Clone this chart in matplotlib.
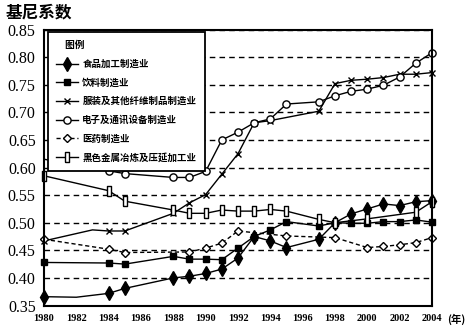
import numpy as np
import matplotlib
matplotlib.use("Agg")
import matplotlib.pyplot as plt

# ── 数据 ──────────────────────────────────────────────────────────────────────
labels = [
    "食品加工制造业",
    "饮料制造业",
    "服装及其他纤维制品制造业",
    "电子及通讯设备制造业",
    "医药制造业",
    "黑色金属冶炼及压延加工业",
]

food_years = [1980, 1982, 1984, 1985, 1988, 1989, 1990, 1991, 1992, 1993, 1994, 1995,
              1997, 1998, 1999, 2000, 2001, 2002, 2003, 2004]
food_gini = [0.366, 0.365, 0.372, 0.381, 0.400, 0.403, 0.408, 0.416, 0.436, 0.475, 0.467, 0.455,
             0.470, 0.500, 0.516, 0.525, 0.534, 0.531, 0.538, 0.540]

drink_years = [1980, 1984, 1985, 1988, 1989, 1990, 1991, 1992, 1993, 1994, 1995,
               1997, 1998, 1999, 2000, 2001, 2002, 2003, 2004]
drink_gini = [0.428, 0.427, 0.425, 0.439, 0.434, 0.434, 0.433, 0.454, 0.475, 0.487, 0.502,
              0.494, 0.500, 0.499, 0.499, 0.502, 0.502, 0.505, 0.501]

cloth_years = [1980, 1983, 1984, 1985, 1988, 1989, 1990, 1991, 1992, 1993, 1994,
               1997, 1998, 1999, 2000, 2001, 2002, 2003, 2004]
cloth_gini = [0.467, 0.487, 0.485, 0.485, 0.517, 0.536, 0.551, 0.588, 0.625, 0.681, 0.685,
              0.702, 0.752, 0.758, 0.760, 0.763, 0.769, 0.769, 0.772]

elec_years = [1980, 1984, 1985, 1988, 1989, 1990, 1991, 1992, 1993, 1994, 1995,
              1997, 1998, 1999, 2000, 2001, 2002, 2003, 2004]
elec_gini = [0.615, 0.594, 0.589, 0.582, 0.582, 0.593, 0.650, 0.664, 0.681, 0.688, 0.715,
             0.719, 0.730, 0.738, 0.742, 0.749, 0.764, 0.789, 0.808]

med_years = [1980, 1984, 1985, 1989, 1990, 1991, 1992, 1995, 1998, 2000, 2001, 2002, 2003, 2004]
med_gini = [0.470, 0.452, 0.446, 0.447, 0.454, 0.463, 0.485, 0.476, 0.473, 0.455, 0.457,
            0.460, 0.464, 0.473]

steel_years = [1980, 1984, 1985, 1988, 1989, 1990, 1991, 1992, 1993, 1994, 1995,
               1997, 1998, 2000, 2003, 2004]
steel_gini = [0.585, 0.558, 0.539, 0.523, 0.517, 0.517, 0.523, 0.521, 0.521, 0.524, 0.521,
              0.506, 0.500, 0.507, 0.519, 0.538]

year_ticks = list(range(1980, 2005, 2))
gini_ticks = [0.35, 0.40, 0.45, 0.50, 0.55, 0.60, 0.65, 0.70, 0.75, 0.80, 0.85]

# 竖长方形空心标记
tall_box = [(-0.55, -1), (0.55, -1), (0.55, 1), (-0.55, 1), (-0.55, -1)]

SERIF = ["Liberation Serif", "Noto Sans CJK SC"]
CJK = ["Noto Sans CJK SC", "DejaVu Sans"]

fig = plt.figure(figsize=(4.71, 3.29), dpi=100)
ax = fig.add_axes([0.0934, 0.0714, 0.8238, 0.8389])

common = dict(color="black", lw=1.0, clip_on=False)

def skip(years, missing):
    return [i for i, y in enumerate(years) if y not in missing]

ax.plot(food_years, food_gini, marker="d", ms=7, mfc="black", mec="black",
        markevery=skip(food_years, [1982]), label=labels[0], **common)
ax.plot(drink_years, drink_gini, marker="s", ms=5, mfc="black", mec="black",
        label=labels[1], **common)
ax.plot(cloth_years, cloth_gini, marker="x", ms=4.5, mew=1.0,
        markevery=skip(cloth_years, [1983]), label=labels[2], **common)
ax.plot(elec_years, elec_gini, marker="o", ms=5.2, mfc="white", mec="black", mew=1.0,
        markevery=skip(elec_years, [1980]), label=labels[3], **common)
ax.plot(med_years, med_gini, marker="D", ms=4.5, mfc="white", mec="black", mew=1.0,
        ls=(0, (3, 2)), label=labels[4], **common)
ax.plot(steel_years, steel_gini, marker=tall_box, ms=6.5, mfc="white", mec="black", mew=1.0,
        label=labels[5], **common)

ax.set_xlim(1980, 2004)
ax.set_ylim(0.35, 0.85)
ax.set_xticks(year_ticks)
ax.set_xticklabels([str(y) for y in year_ticks], family=SERIF, fontsize=7.5,
                   fontweight="bold")
ax.set_yticks(gini_ticks)
ax.set_yticklabels([f"{v:.2f}" for v in gini_ticks], family=SERIF, fontsize=11.5)
ax.tick_params(axis="both", length=0)
ax.tick_params(axis="x", pad=6)
ax.tick_params(axis="y", pad=6)

ax.yaxis.grid(True, color="black", lw=1.0, ls=(0, (4, 3)))
ax.set_axisbelow(True)
for s in ax.spines.values():
    s.set_linewidth(1.5)

ax.annotate("(年)", xy=(2004, 0), xycoords=("data", "axes fraction"),
            xytext=(11, -6), textcoords="offset points", ha="left", va="top",
            fontsize=7.5, fontweight="bold", family=CJK)

leg = ax.legend(loc="upper left", bbox_to_anchor=(0.01, 0.992), borderaxespad=0,
                title="    图例", alignment="left", frameon=True, fancybox=False,
                edgecolor="black", framealpha=1, handlelength=2.3, handletextpad=0.45,
                labelspacing=0.92, borderpad=0.9,
                prop={"family": CJK, "size": 6.8, "weight": "bold"})
leg.set_zorder(10)
leg.get_frame().set_linewidth(1.3)
leg.get_title().set_fontproperties(
    matplotlib.font_manager.FontProperties(family=CJK, size=7, weight="bold"))

fig.text(0.012, 0.99, "基尼系数", ha="left", va="top", fontsize=12,
         fontweight="bold", family=CJK)

fig.savefig("out.png", dpi=100)
